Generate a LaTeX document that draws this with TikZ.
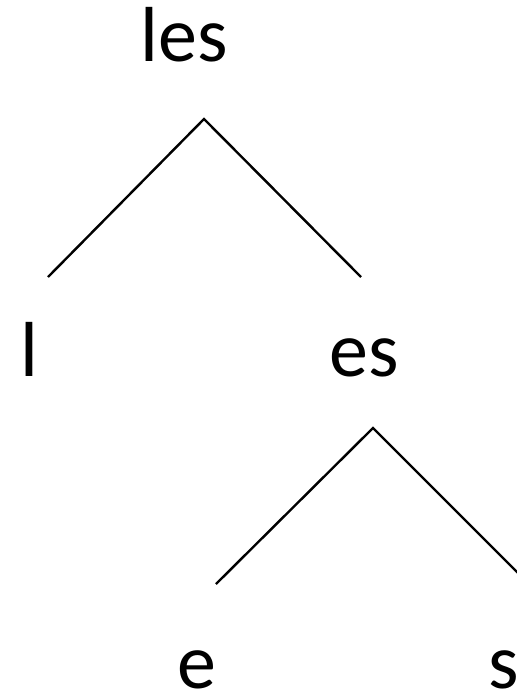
\documentclass[tikz,border=0pt]{standalone}
\usepackage{fontspec}
\setmainfont{Carlito}
\begin{document}
\begin{tikzpicture}[x=1pt,y=-1pt,line join=miter,
  word/.style={anchor=base,inner sep=0pt,font=\fontsize{78}{80}\selectfont},
  branch/.style={line width=2.4pt}]
\useasboundingbox (0,0) rectangle (517,694);
% top level
\node[word] (les) at (184,61) {les};
\coordinate (apexA) at (204,119);
\coordinate (leftA) at (48,277);
\coordinate (rightA) at (361,277);
\draw[branch] (leftA)--(apexA)--(rightA);
% second level
\node[word] (l) at (29.5,376) {l};
\node[word] (es) at (364,376) {es};
\coordinate (apexB) at (373,428);
\coordinate (leftB) at (216,584);
\coordinate (rightB) at (529,584);
\draw[branch] (leftB)--(apexB)--(rightB);
% leaves
\node[word] (e) at (197,688) {e};
\node[word] (s) at (504,688) {s};
\end{tikzpicture}
\end{document}
